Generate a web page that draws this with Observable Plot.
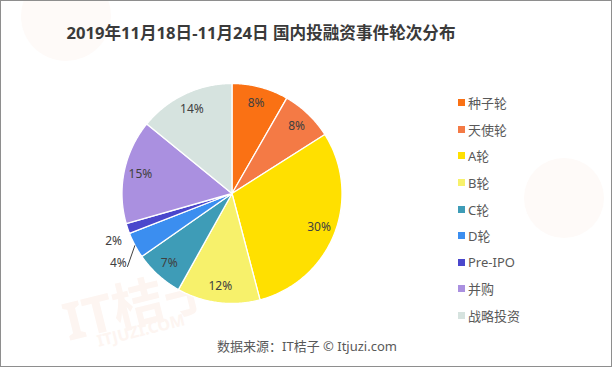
<!DOCTYPE html>
<html><head><meta charset="utf-8">
<script src="https://cdn.jsdelivr.net/npm/d3@7"></script>
<script src="https://cdn.jsdelivr.net/npm/@observablehq/plot@0.6"></script>
<style>
html,body{margin:0;padding:0;background:#fff;}
#chart{position:relative;width:612px;height:367px;box-sizing:border-box;border:1px solid #8e8e8e;overflow:hidden;background:#fff;font-family:"Noto Sans","Noto Sans CJK SC",sans-serif;}
.wm{position:absolute;color:#fdf5f1;pointer-events:none;white-space:nowrap;}
.wmc{position:absolute;border-radius:50%;background:#fefaf8;}
#title{position:absolute;left:0;top:18px;width:520px;text-align:center;font-size:16.6px;font-weight:bold;color:#3a3a3a;line-height:28px;font-family:"Noto Sans","Noto Sans CJK SC",sans-serif;}
#pie{position:absolute;left:0;top:60px;}
#legend{position:absolute;left:457px;top:0;}
.row{position:absolute;left:0;height:20px;display:flex;align-items:center;white-space:nowrap;font-size:13px;color:#595959;}
.sw{width:7px;height:7px;margin-right:3px;flex:none;}
#source{position:absolute;left:0;width:612px;top:335px;text-align:center;font-size:13px;color:#595959;line-height:20px;}
</style></head><body><div id="chart"></div>
<script>
const categories = ["种子轮","天使轮","A轮","B轮","C轮","D轮","Pre-IPO","并购","战略投资"];
const shares = [8.3, 7.7, 29.9, 12.2, 7.2, 3.8, 1.5, 15.3, 14.1];
const labels = ["8%","8%","30%","12%","7%","4%","2%","15%","14%"];
const colors = ["#fa7114","#f47a45","#ffe000","#f7f16b","#3e9cb7","#3b8ef0","#4a47cc","#aa90e0","#d6e3df"];
const title = "2019年11月18日-11月24日 国内投融资事件轮次分布";
const source = "数据来源：IT桔子 © Itjuzi.com";

const chart = document.getElementById("chart");

// faint watermarks
[["wmc",{left:"20px",top:"-30px",width:"90px",height:"90px"}],
 ["wmc",{left:"523px",top:"157px",width:"80px",height:"80px"}]].forEach(([c,s])=>{
  const d=document.createElement("div");d.className=c;Object.assign(d.style,s);chart.appendChild(d);
});
const wm1=document.createElement("div");wm1.className="wm";wm1.textContent="IT桔子";
Object.assign(wm1.style,{left:"60px",top:"262px",fontSize:"52px",fontWeight:"bold",transform:"rotate(-14deg)"});
chart.appendChild(wm1);
const wm2=document.createElement("div");wm2.className="wm";wm2.textContent="ITJUZI.COM";
Object.assign(wm2.style,{left:"95px",top:"318px",fontSize:"16px",fontWeight:"bold",transform:"rotate(-14deg)"});
chart.appendChild(wm2);

// title
const t=document.createElement("div");t.id="title";t.textContent=title;chart.appendChild(t);

// pie
const data = categories.map((k,i)=>({k, v: shares[i], label: labels[i]}));
const arcs = d3.pie().sort(null).value(d=>d.v)(data);
const pts = [];
arcs.forEach(a=>{
  const n = Math.max(4, Math.ceil((a.endAngle-a.startAngle)/0.01));
  pts.push({k:a.data.k, x:0, y:0});
  for(let j=0;j<=n;j++){
    const ang = a.startAngle + (a.endAngle-a.startAngle)*j/n;
    pts.push({k:a.data.k, x:Math.sin(ang), y:Math.cos(ang)});
  }
});
const inside = [], outside = [], leaders = [];
arcs.forEach(a=>{
  const mid=(a.startAngle+a.endAngle)/2;
  if(a.data.v >= 5){
    inside.push({label:a.data.label, x:0.85*Math.sin(mid), y:0.85*Math.cos(mid)});
  } else {
    const ang = mid - 0.058;
    const r = a.data.v > 2 ? 1.21 : 1.16;
    const o = {label:a.data.label, x:r*Math.sin(ang), y:r*Math.cos(ang)};
    outside.push(o);
    if(a.data.v > 2) leaders.push({x1:o.x+9/110, y1:o.y-4/110, x2:Math.sin(mid), y2:Math.cos(mid)});
  }
});
const W=440,H=265,cx=230.5,cy=132,R=110;
const svg = Plot.plot({
  width:W, height:H, margin:0,
  style:{fontFamily:'"Noto Sans","Noto Sans CJK SC",sans-serif', background:"transparent", overflow:"visible"},
  x:{domain:[-cx/R,(W-cx)/R], axis:null},
  y:{domain:[-(H-cy)/R, cy/R], axis:null},
  color:{domain:categories, range:colors},
  marks:[
    Plot.line(pts,{x:"x",y:"y",z:"k",fill:"k",stroke:"white",strokeWidth:1.3,strokeLinejoin:"round",curve:"linear-closed"}),
    Plot.text(inside,{x:"x",y:"y",text:"label",fill:"#404040",fontSize:12}),
    Plot.text(outside,{x:"x",y:"y",text:"label",fill:"#404040",fontSize:12}),
    Plot.link(leaders,{x1:"x1",y1:"y1",x2:"x2",y2:"y2",stroke:"#404040",strokeWidth:1})
  ]
});
svg.id="pie";
chart.appendChild(svg);

// legend
const lg=document.createElement("div");lg.id="legend";
categories.forEach((k,i)=>{
  const row=document.createElement("div");row.className="row";
  row.style.top=(101.7+i*26.6-10)+"px";
  const sw=document.createElement("div");sw.className="sw";sw.style.background=colors[i];
  const tx=document.createElement("span");tx.textContent=k;
  row.appendChild(sw);row.appendChild(tx);lg.appendChild(row);
});
chart.appendChild(lg);

const s=document.createElement("div");s.id="source";s.textContent=source;chart.appendChild(s);
</script>
</body></html>
